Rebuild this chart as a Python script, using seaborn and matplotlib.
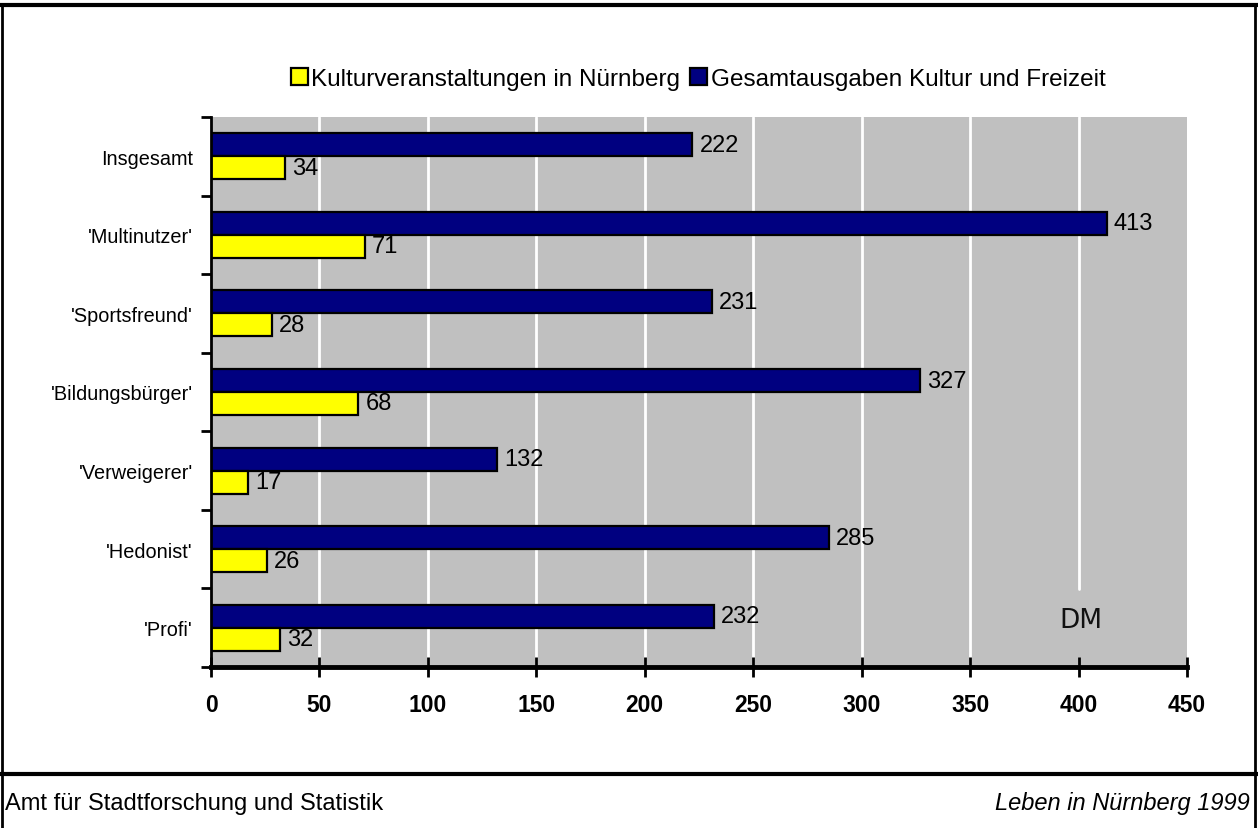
import matplotlib
matplotlib.use("Agg")
import matplotlib.pyplot as plt
import matplotlib.patches as mpatches
from matplotlib.lines import Line2D
import seaborn as sns
import pandas as pd

# Lebensstiltypen und monatliche Ausgaben in DM
categories = ["Insgesamt", "'Multinutzer'", "'Sportsfreund'", "'Bildungsbürger'",
              "'Verweigerer'", "'Hedonist'", "'Profi'"]
gesamt = [222, 413, 231, 327, 132, 285, 232]
kultur = [34, 71, 28, 68, 17, 26, 32]
series_names = ["Kulturveranstaltungen in Nürnberg", "Gesamtausgaben Kultur und Freizeit"]
x_ticks = [0, 50, 100, 150, 200, 250, 300, 350, 400, 450]

NAVY = "#000080"
YELLOW = "#FFFF00"
GRAY = "#C0C0C0"

df = pd.DataFrame({
    "Typ": categories * 2,
    "DM": gesamt + kultur,
    "Reihe": [series_names[1]] * len(categories) + [series_names[0]] * len(categories),
})

sns.set_theme(style="white")
plt.rcParams["font.family"] = ["Liberation Sans", "DejaVu Sans"]
plt.rcParams["text.color"] = "black"
plt.rcParams["xtick.color"] = "black"
plt.rcParams["ytick.color"] = "black"
plt.rcParams["xtick.labelcolor"] = "black"
plt.rcParams["ytick.labelcolor"] = "black"

fig = plt.figure(figsize=(12.58, 8.29), dpi=100)
ax = fig.add_axes([211 / 1258, 1 - 668 / 829, (1187 - 211) / 1258, (668 - 118) / 829])

sns.barplot(data=df, y="Typ", x="DM", hue="Reihe", order=categories,
            hue_order=[series_names[1], series_names[0]],
            palette=[NAVY, YELLOW], orient="h", width=0.585,
            edgecolor="black", linewidth=1.6, saturation=1, ax=ax, legend=False)

ax.set_facecolor(GRAY)
ax.set_xlim(0, 450)
ax.set_ylim(len(categories) - 0.5, -0.5)
ax.set_xlabel("")
ax.set_ylabel("")

# weiße senkrechte Gitterlinien (bei 400 durch die Einheit "DM" unterbrochen)
for v in x_ticks[1:-1]:
    if v == 400:
        ax.axvline(v, ymin=0.142, ymax=1, color="white", lw=2, zorder=0.5)
        ax.axvline(v, ymin=0, ymax=0.004, color="white", lw=2, zorder=0.5)
    else:
        ax.axvline(v, color="white", lw=2, zorder=0.5)

for cont in ax.containers:
    ax.bar_label(cont, padding=5, fontsize=17, color="black")

ax.set_xticks(x_ticks)
ax.set_xticklabels([str(t) for t in x_ticks], fontweight="bold", fontsize=16.5)
ax.tick_params(axis="x", direction="inout", length=14, width=2, color="black", pad=12,
               bottom=True)
ax.set_yticks(range(len(categories)))
ax.set_yticklabels(categories, fontsize=14.3)
ax.tick_params(axis="y", length=0, pad=13)
ax.set_yticks([i - 0.5 for i in range(len(categories) + 1)], minor=True)
ax.tick_params(axis="y", which="minor", direction="out", length=7, width=2, color="black",
               left=True)

for side in ["top", "right"]:
    ax.spines[side].set_visible(False)
ax.spines["left"].set_color("black")
ax.spines["left"].set_linewidth(2)
ax.spines["bottom"].set_color("black")
ax.spines["bottom"].set_linewidth(3.5)

ax.text(401, 5.9, "DM", fontsize=19, ha="center", va="center", color="#111111",
        family="DejaVu Sans", zorder=3)

handles = [mpatches.Patch(facecolor=YELLOW, edgecolor="black", linewidth=1.6),
           mpatches.Patch(facecolor=NAVY, edgecolor="black", linewidth=1.6)]
fig.legend(handles, series_names, loc="center", bbox_to_anchor=(698 / 1258, 1 - 80 / 829),
           ncol=2, frameon=False, fontsize=17.5, handlelength=0.7, handleheight=0.7,
           handletextpad=0.15, columnspacing=0.4)

# Rahmen und Fußzeile
frame_kw = dict(color="black", transform=fig.transFigure)
fig.add_artist(Line2D([0, 1], [1 - 6 / 829, 1 - 6 / 829], lw=3, **frame_kw))
fig.add_artist(Line2D([2 / 1258, 2 / 1258], [0, 1 - 6 / 829], lw=2, **frame_kw))
fig.add_artist(Line2D([1255 / 1258, 1255 / 1258], [0, 1 - 6 / 829], lw=2, **frame_kw))
fig.add_artist(Line2D([0, 1], [1 - 775 / 829, 1 - 775 / 829], lw=3, **frame_kw))

fig.text(5 / 1258, 1 - 804 / 829, "Amt für Stadtforschung und Statistik", fontsize=17,
         ha="left", va="center")
fig.text(1250 / 1258, 1 - 804 / 829, "Leben in Nürnberg 1999", fontsize=17,
         ha="right", va="center", style="italic")

fig.savefig("out.png", dpi=100)
